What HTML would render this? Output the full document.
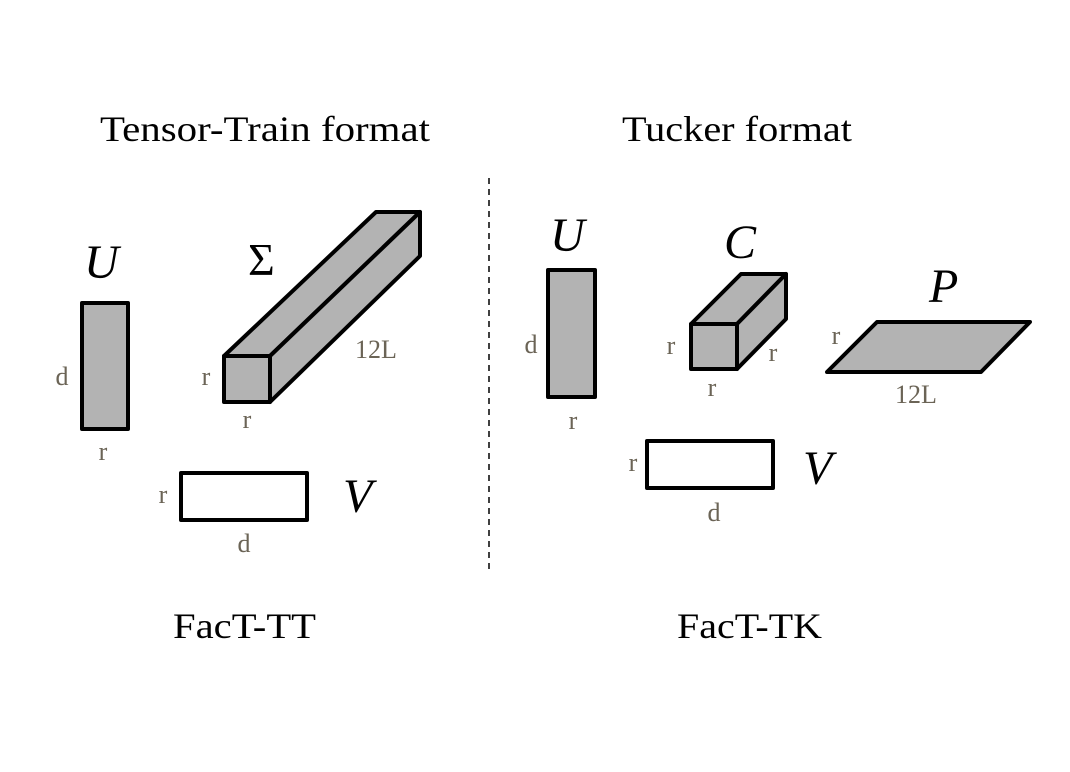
<!DOCTYPE html>
<html><head><style>body{margin:0;background:#fff}</style></head><body>
<svg width="1070" height="767" viewBox="0 0 1070 767" xmlns="http://www.w3.org/2000/svg" font-family="Liberation Serif, serif">
<g fill="#000" font-size="36">
<text x="100" y="141" textLength="330" lengthAdjust="spacingAndGlyphs">Tensor-Train format</text>
<text x="622" y="141" textLength="230" lengthAdjust="spacingAndGlyphs">Tucker format</text>
<text x="173" y="638" textLength="143" lengthAdjust="spacingAndGlyphs">FacT-TT</text>
<text x="677" y="638" textLength="145" lengthAdjust="spacingAndGlyphs">FacT-TK</text>
</g>
<line x1="489" y1="178" x2="489" y2="572" stroke="#000" stroke-width="1.5" stroke-dasharray="6,5"/>
<g stroke="#000" stroke-width="4" stroke-linejoin="round" fill="#b3b3b3">
<rect x="82" y="303" width="46" height="126"/>
<rect x="548" y="270" width="47" height="127"/>
<rect x="181" y="473" width="126" height="47" fill="#fff"/>
<rect x="647" y="441" width="126" height="47" fill="#fff"/>
<polygon points="224,356 376,212 420,212 270,356"/>
<polygon points="270,356 420,212 420,256 270,402"/>
<rect x="224" y="356" width="46" height="46"/>
<polygon points="691,324 741,274 786,274 737,324"/>
<polygon points="737,324 786,274 786,319 737,369"/>
<rect x="691" y="324" width="46" height="45"/>
<polygon points="827,372 877,322 1030,322 981,372"/>
</g>
<g font-style="italic" font-size="48" fill="#000">
<text x="84" y="278">U</text>
<text x="550" y="251">U</text>
<text x="724" y="258">C</text>
<text x="929" y="302">P</text>
<text x="343" y="512">V</text>
<text x="803" y="484">V</text>
</g>
<text x="248" y="275" font-size="46" fill="#000">Σ</text>
<g font-size="26" fill="#6b6456" text-anchor="middle">
<text x="62" y="385">d</text>
<text x="103" y="460">r</text>
<text x="206" y="385">r</text>
<text x="247" y="428">r</text>
<text x="376" y="358">12L</text>
<text x="163" y="503">r</text>
<text x="244" y="552">d</text>
<text x="531" y="353">d</text>
<text x="573" y="429">r</text>
<text x="671" y="354">r</text>
<text x="712" y="396">r</text>
<text x="773" y="361">r</text>
<text x="836" y="344">r</text>
<text x="916" y="403">12L</text>
<text x="633" y="471">r</text>
<text x="714" y="521">d</text>
</g>
</svg>
</body></html>
